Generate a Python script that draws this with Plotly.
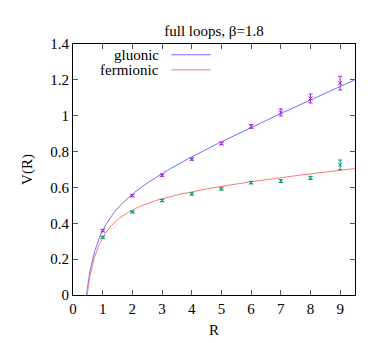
import numpy as np
import plotly.graph_objects as go

R = [1, 2, 3, 4, 5, 6, 7, 8, 9]
V_gluonic = [0.359, 0.554, 0.668, 0.758, 0.845, 0.940, 1.018, 1.096, 1.182]
E_gluonic = [0.006, 0.006, 0.006, 0.006, 0.007, 0.010, 0.020, 0.025, 0.038]
V_fermionic = [0.322, 0.463, 0.527, 0.564, 0.592, 0.627, 0.636, 0.653, 0.726]
E_fermionic = [0.005, 0.005, 0.006, 0.006, 0.006, 0.007, 0.008, 0.009, 0.027]

# Cornell fit parameters V(R) = A + sigma*R - c/R
fit_gluonic = dict(A=0.5513, sigma=0.0712, c=0.2625)
fit_fermionic = dict(A=0.580, sigma=0.0163, c=0.2761)

x_ticks = [0, 1, 2, 3, 4, 5, 6, 7, 8, 9]
y_ticks = [0, 0.2, 0.4, 0.6, 0.8, 1.0, 1.2, 1.4]
y_labels = ["0", "0.2", "0.4", "0.6", "0.8", "1", "1.2", "1.4"]

blue_line = "rgb(112,112,255)"
red_line = "rgb(255,120,120)"
purple = "rgb(160,40,220)"
teal = "rgb(0,158,115)"

rr = np.linspace(0.3, 9.5, 600)

def cornell(p, r):
    return p["A"] + p["sigma"] * r - p["c"] / r

SERIF = "Liberation Serif, Times New Roman, serif"
font = dict(family=SERIF, size=15, color="black")

fig = go.Figure()
fig.add_trace(go.Scatter(x=rr, y=cornell(fit_gluonic, rr), mode="lines",
                         line=dict(color=blue_line, width=1), showlegend=False))
fig.add_trace(go.Scatter(x=rr, y=cornell(fit_fermionic, rr), mode="lines",
                         line=dict(color=red_line, width=1), showlegend=False))
fig.add_trace(go.Scatter(x=R, y=V_gluonic, mode="markers",
                         marker=dict(symbol="x-thin", size=4, line=dict(color=purple, width=1)),
                         error_y=dict(type="data", array=E_gluonic, color=purple, thickness=1, width=2),
                         showlegend=False))
fig.add_trace(go.Scatter(x=R, y=V_fermionic, mode="markers",
                         marker=dict(symbol="x-thin", size=4, line=dict(color=teal, width=1)),
                         error_y=dict(type="data", array=E_fermionic, color=teal, thickness=1, width=2),
                         showlegend=False))

fig.update_layout(
    width=382, height=343,
    margin=dict(l=65, r=35, t=36, b=56),
    paper_bgcolor="white", plot_bgcolor="white",
    font=font,
    title=dict(text="full loops, β=1.8", x=0.5, xanchor="center", xref="paper",
               y=1, yanchor="bottom", yref="paper", pad=dict(b=8),
               font=dict(family=SERIF, size=15, color="black")),
    xaxis=dict(range=[0, 9.5], tickvals=x_ticks, ticks="inside", ticklen=5, tickcolor="#555",
               tickfont=dict(family=SERIF, size=15, color="black"),
               showline=True, linecolor="black", linewidth=1, mirror="ticks", showgrid=False,
               zeroline=False, automargin=False,
               title=dict(text="R", standoff=8, font=dict(family=SERIF, size=15, color="black"))),
    yaxis=dict(range=[0, 1.4], tickvals=y_ticks, ticktext=y_labels, ticks="inside", ticklen=5,
               tickcolor="#555", tickfont=dict(family=SERIF, size=15, color="black"),
               showline=True, linecolor="black", linewidth=1, mirror="ticks",
               showgrid=False, zeroline=False, automargin=False,
               title=dict(text="V(R)", standoff=14, font=dict(family=SERIF, size=15, color="black"))),
)

# gnuplot-style key: right-aligned text with line sample to the right
key = [("gluonic", blue_line, 0.957), ("fermionic", red_line, 0.897)]
for label, col, yp in key:
    fig.add_annotation(x=0.312, y=yp, xref="paper", yref="paper", text=label, showarrow=False,
                       xanchor="right", yanchor="middle", font=font)
    fig.add_shape(type="line", xref="paper", yref="paper", x0=0.349, x1=0.488, y0=yp, y1=yp,
                  line=dict(color=col, width=1))

fig.write_html("out.html")
